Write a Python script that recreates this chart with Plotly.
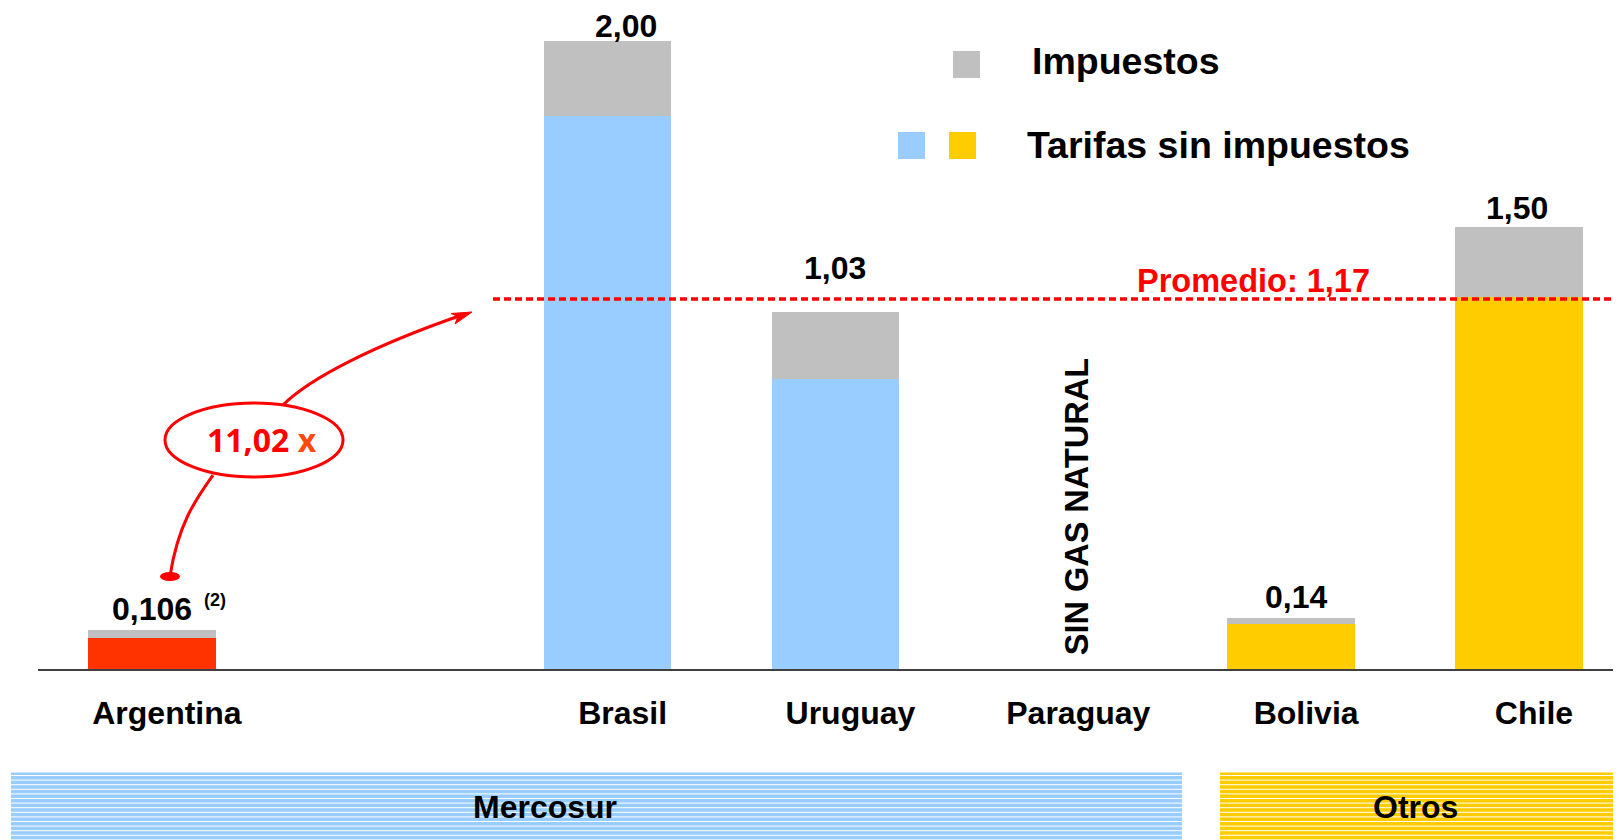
import plotly.graph_objects as go

# ---- data ----
countries = ["Argentina", "Brasil", "Uruguay", "Paraguay", "Bolivia", "Chile"]
slots = [0, 2, 3, 4, 5, 6]
tarifas = [0.100, 1.762, 0.923, 0.0, 0.144, 1.185]
impuestos = [0.024, 0.239, 0.215, 0.0, 0.018, 0.223]
value_labels = ["0,106", "2,00", "1,03", "", "0,14", "1,50"]
promedio = 1.178
promedio_label = "Promedio: 1,17"
ratio_label = "11,02"
groups = ["Mercosur", "Otros"]

# ---- styles ----
GRAY = "#c0c0c0"
BLUE = "#99ccff"
GOLD = "#ffcc00"
ARG_RED = "#ff3300"
RED = "#ff0000"
tar_colors = [ARG_RED, BLUE, BLUE, BLUE, GOLD, GOLD]
FONT = "Liberation Sans, Arial, Helvetica, sans-serif"

OFF = 8                      # page body margin
W, H = 1621 - OFF, 840 - OFF  # figure size
BASE = 669                   # baseline in page coords
LEFT = 38                    # axis start in page coords
L = LEFT - OFF
PH = BASE - OFF
B = H - PH
PW = W - L
SCALE = 314.0                # px per unit


def px(x):
    return (x - LEFT) / PW


def py(y):
    return (BASE - y) / PH


fig = go.Figure()
fig.add_trace(go.Bar(x=slots, y=tarifas, name="Tarifas sin impuestos",
                     marker=dict(color=tar_colors, line=dict(width=0)), width=0.56))
fig.add_trace(go.Bar(x=slots, y=impuestos, name="Impuestos",
                     marker=dict(color=GRAY, line=dict(width=0)), width=0.56))

annotations = []
shapes = []

# value labels
lab_shift = [(0, 21), (18, 15), (0, 44), (0, 0), (5, 21), (-2, 19)]
for s, t, i, lab, (xs, ys) in zip(slots, tarifas, impuestos, value_labels, lab_shift):
    if not lab:
        continue
    annotations.append(dict(x=s, y=t + i, xref="x", yref="y", text=lab, showarrow=False,
                            xanchor="center", yanchor="middle", xshift=xs, yshift=ys,
                            font=dict(family=FONT, size=32, color="black", weight=700)))
# (2) superscript on Argentina
annotations.append(dict(x=slots[0], y=tarifas[0] + impuestos[0], xref="x", yref="y", text="(2)",
                        showarrow=False, xanchor="center", yanchor="middle", xshift=63, yshift=30,
                        font=dict(family=FONT, size=18, color="black", weight=700)))

# Promedio line and label
shapes.append(dict(type="line", xref="paper", yref="y", x0=px(493), x1=1.0, y0=promedio, y1=promedio,
                   line=dict(color=RED, width=3.5, dash="7px,4px")))
annotations.append(dict(x=px(1253), y=promedio, xref="paper", yref="y", text=promedio_label,
                        showarrow=False, xanchor="center", yanchor="middle", yshift=18,
                        font=dict(family=FONT, size=32.5, color=RED, weight=700)))

# SIN GAS NATURAL
annotations.append(dict(x=slots[3], y=py(507), xref="x", yref="paper", text="SIN GAS NATURAL",
                        textangle=-90, showarrow=False, xanchor="center", yanchor="middle", xshift=14,
                        font=dict(family=FONT, size=32.5, color="black", weight=700)))

# Legend
shapes.append(dict(type="rect", xref="paper", yref="paper", x0=px(953), x1=px(980), y0=py(51), y1=py(78),
                   fillcolor=GRAY, line=dict(width=0)))
shapes.append(dict(type="rect", xref="paper", yref="paper", x0=px(898), x1=px(925), y0=py(132), y1=py(159),
                   fillcolor=BLUE, line=dict(width=0)))
shapes.append(dict(type="rect", xref="paper", yref="paper", x0=px(949), x1=px(976), y0=py(132), y1=py(159),
                   fillcolor=GOLD, line=dict(width=0)))
annotations.append(dict(x=px(1030), y=py(61), xref="paper", yref="paper", text="Impuestos",
                        showarrow=False, xanchor="left", yanchor="middle",
                        font=dict(family=FONT, size=37.5, color="black", weight=700)))
annotations.append(dict(x=px(1025), y=py(145), xref="paper", yref="paper", text="Tarifas sin impuestos",
                        showarrow=False, xanchor="left", yanchor="middle",
                        font=dict(family=FONT, size=37.5, color="black", weight=700)))

# Ellipse callout with curved arrows
shapes.append(dict(type="circle", xref="paper", yref="paper", x0=px(165), x1=px(343), y0=py(403), y1=py(477),
                   line=dict(color=RED, width=3), fillcolor="rgba(0,0,0,0)"))
annotations.append(dict(x=px(262), y=py(440), xref="paper", yref="paper",
                        text=ratio_label + " <span style='color:#ff4a10'>x</span>",
                        showarrow=False, xanchor="center", yanchor="middle",
                        font=dict(family="Open Sans, DejaVu Sans, sans-serif", size=32, color=RED, weight=700)))


def pt(a, b):
    return "{:.5f},{:.5f}".format(px(a), py(b))


def curve(p0, c1, c2, p1):
    return "M " + pt(*p0) + " C " + pt(*c1) + " " + pt(*c2) + " " + pt(*p1)


def poly(pts):
    return "M " + pt(*pts[0]) + "".join(" L " + pt(*p) for p in pts[1:]) + " Z"


shapes.append(dict(type="path", xref="paper", yref="paper",
                   path=curve((283, 405), (310, 378), (375, 345), (462, 315)),
                   line=dict(color=RED, width=3)))
# arrow head (stealth style)
shapes.append(dict(type="path", xref="paper", yref="paper",
                   path=poly([(472, 312), (451, 313.5), (458, 316.5), (455, 324)]),
                   fillcolor=RED, line=dict(color=RED, width=1)))
shapes.append(dict(type="path", xref="paper", yref="paper",
                   path=curve((213, 475), (195, 500), (178, 525), (170, 576)),
                   line=dict(color=RED, width=3)))
shapes.append(dict(type="circle", xref="paper", yref="paper", x0=px(160), x1=px(180), y0=py(572), y1=py(581),
                   fillcolor=RED, line=dict(width=0)))

# Bottom group bands
bands = [(11, 1182, BLUE, 545), (1220, 1621, GOLD, 1415)]
for (x0, x1, col, cx), g in zip(bands, groups):
    shapes.append(dict(type="rect", xref="paper", yref="paper", x0=px(x0), x1=px(x1), y0=py(772.5), y1=py(842),
                       fillcolor=col, line=dict(width=0), layer="below"))
    yy = 775.5
    while yy < 840:
        shapes.append(dict(type="line", xref="paper", yref="paper", x0=px(x0), x1=px(x1), y0=py(yy), y1=py(yy),
                           line=dict(color="white", width=1), layer="below"))
        yy += 4.6
    annotations.append(dict(x=px(cx), y=py(807), xref="paper", yref="paper", text=g, showarrow=False,
                            xanchor="center", yanchor="middle",
                            font=dict(family=FONT, size=32, color="black", weight=700)))

fig.update_layout(
    width=W, height=H, autosize=False,
    margin=dict(l=L, r=0, t=0, b=B, pad=0),
    barmode="stack", showlegend=False,
    plot_bgcolor="white", paper_bgcolor="white",
    shapes=shapes, annotations=annotations,
    xaxis=dict(range=[-0.5, (1621 - 152) / 227.83], tickmode="array", tickvals=slots, ticktext=countries,
               showline=True, linecolor="#404040", linewidth=2, showgrid=False, zeroline=False,
               ticks="", ticklabelshift=15, ticklabelstandoff=15,
               tickfont=dict(family=FONT, size=32, color="black", weight=700), fixedrange=True),
    yaxis=dict(range=[0, PH / SCALE], visible=False, fixedrange=True),
)

fig.write_html("out.html")
